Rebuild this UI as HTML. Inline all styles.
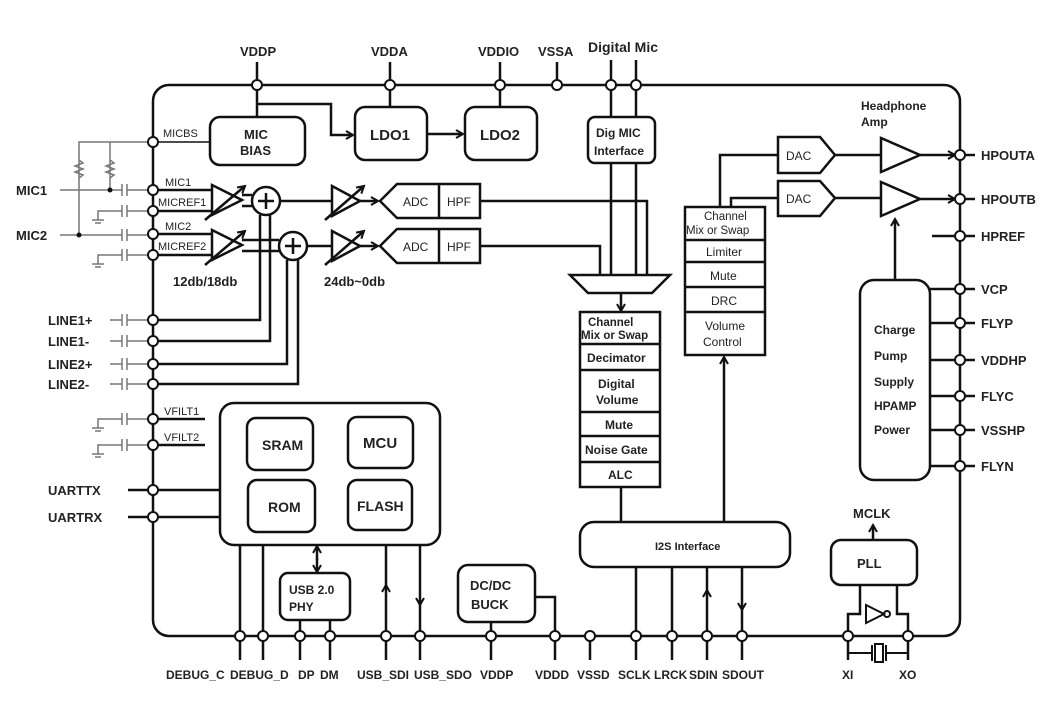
<!DOCTYPE html>
<html><head><style>
html,body{margin:0;padding:0;background:#fff}
svg{display:block}
text{font-family:"Liberation Sans",sans-serif;fill:#222}
.b{font-weight:bold;font-size:13px}
.s{font-size:11px;fill:#555}
.m{font-size:12px;fill:#444}
</style></head><body>
<svg width="1060" height="728" viewBox="0 0 1060 728" xmlns="http://www.w3.org/2000/svg">
<defs>
<marker id="a" markerWidth="10" markerHeight="10" refX="8" refY="5" orient="auto" markerUnits="userSpaceOnUse"><path d="M1,1 L8,5 L1,9" fill="none" stroke="#111" stroke-width="2"/></marker>
</defs>
<g fill="none" stroke="#111" stroke-width="2.5">
<rect x="153" y="85" width="807" height="551" rx="16"/>
<line x1="257" y1="62" x2="257" y2="118"/>
<line x1="390" y1="62" x2="390" y2="108"/>
<line x1="500" y1="62" x2="500" y2="108"/>
<line x1="557" y1="62" x2="557" y2="85"/>
<line x1="611" y1="60" x2="611" y2="117"/>
<line x1="636" y1="60" x2="636" y2="117"/>
<line x1="611" y1="163" x2="611" y2="275"/>
<line x1="636" y1="163" x2="636" y2="275"/>
<rect x="210" y="117" width="95" height="48" rx="10"/>
<rect x="355" y="107" width="72" height="53" rx="10"/>
<rect x="465" y="107" width="72" height="53" rx="10"/>
<polyline points="257,104 331,104 331,135 353,135" marker-end="url(#a)"/>
<line x1="427" y1="134" x2="463" y2="134" marker-end="url(#a)"/>
<line x1="153" y1="142" x2="210" y2="142" stroke-width="1.5"/>
<rect x="588" y="117" width="67" height="46" rx="7"/>
<line x1="153" y1="190" x2="212" y2="190"/>
<line x1="153" y1="211" x2="212" y2="211"/>
<line x1="153" y1="234" x2="212" y2="234"/>
<line x1="153" y1="255" x2="212" y2="255"/>
<path d="M212,185 L242,200 L212,215 Z"/>
<path d="M212,230 L242,245 L212,260 Z"/>
<line x1="205" y1="220" x2="245" y2="186" marker-end="url(#a)"/>
<line x1="205" y1="265" x2="245" y2="231" marker-end="url(#a)"/>
<line x1="242" y1="195" x2="252" y2="195"/><line x1="242" y1="206" x2="252" y2="206"/>
<line x1="242" y1="240" x2="279" y2="240"/><line x1="242" y1="251" x2="279" y2="251"/>
<circle cx="266" cy="201" r="14"/>
<circle cx="293" cy="246" r="14"/>
<line x1="266" y1="193" x2="266" y2="209"/><line x1="258" y1="201" x2="274" y2="201"/>
<line x1="293" y1="238" x2="293" y2="254"/><line x1="285" y1="246" x2="301" y2="246"/>
<polyline points="153,320 260,320 260,215"/>
<polyline points="153,341 270,341 270,215"/>
<polyline points="153,364 287,364 287,260"/>
<polyline points="153,384 298,384 298,260"/>
<line x1="280" y1="201" x2="332" y2="201"/>
<line x1="307" y1="246" x2="332" y2="246"/>
<path d="M332,186 L360,201 L332,216 Z"/>
<path d="M332,231 L360,246 L332,261 Z"/>
<line x1="325" y1="220" x2="364" y2="186" marker-end="url(#a)"/>
<line x1="325" y1="265" x2="364" y2="231" marker-end="url(#a)"/>
<line x1="360" y1="201" x2="378" y2="201" marker-end="url(#a)"/>
<line x1="360" y1="246" x2="378" y2="246" marker-end="url(#a)"/>
<path d="M380,201 L397,184 L480,184 L480,218 L397,218 Z"/>
<path d="M380,246 L397,229 L480,229 L480,263 L397,263 Z"/>
<line x1="439" y1="184" x2="439" y2="218"/>
<line x1="439" y1="229" x2="439" y2="263"/>
<polyline points="480,201 647,201 647,275"/>
<polyline points="480,246 600,246 600,275"/>
<path d="M570,275 L670,275 L652,293 L588,293 Z"/>
<line x1="621" y1="293" x2="621" y2="311" marker-end="url(#a)"/>
<rect x="580" y="312" width="80" height="175"/>
<line x1="580" y1="344" x2="660" y2="344"/>
<line x1="580" y1="370" x2="660" y2="370"/>
<line x1="580" y1="412" x2="660" y2="412"/>
<line x1="580" y1="436" x2="660" y2="436"/>
<line x1="580" y1="462" x2="660" y2="462"/>
<line x1="621" y1="487" x2="621" y2="522"/>
<rect x="685" y="207" width="80" height="148"/>
<line x1="685" y1="240" x2="765" y2="240"/>
<line x1="685" y1="262" x2="765" y2="262"/>
<line x1="685" y1="287" x2="765" y2="287"/>
<line x1="685" y1="312" x2="765" y2="312"/>
<line x1="724" y1="522" x2="724" y2="357" marker-end="url(#a)"/>
<polyline points="720,207 720,155 778,155"/>
<polyline points="731,207 731,198 778,198"/>
<path d="M778,137 L820,137 L835,155 L820,173 L778,173 Z"/>
<path d="M778,181 L820,181 L835,198 L820,216 L778,216 Z"/>
<line x1="835" y1="155" x2="881" y2="155"/>
<line x1="835" y1="198" x2="881" y2="198"/>
<path d="M881,138 L920,155 L881,172 Z"/>
<path d="M881,182 L920,199 L881,216 Z"/>
<line x1="920" y1="155" x2="955" y2="155" marker-end="url(#a)"/>
<line x1="920" y1="199" x2="955" y2="199" marker-end="url(#a)"/>
<line x1="932" y1="236" x2="975" y2="236"/>
<line x1="960" y1="155" x2="975" y2="155"/>
<line x1="960" y1="199" x2="975" y2="199"/>
<rect x="860" y="280" width="70" height="200" rx="14"/>
<line x1="895" y1="280" x2="895" y2="219" marker-end="url(#a)"/>
<line x1="930" y1="289" x2="975" y2="289"/>
<line x1="930" y1="323" x2="975" y2="323"/>
<line x1="930" y1="360" x2="975" y2="360"/>
<line x1="930" y1="396" x2="975" y2="396"/>
<line x1="930" y1="430" x2="975" y2="430"/>
<line x1="930" y1="466" x2="975" y2="466"/>
<rect x="220" y="403" width="220" height="142" rx="14"/>
<rect x="247" y="418" width="66" height="52" rx="9"/>
<rect x="348" y="417" width="65" height="51" rx="9"/>
<rect x="248" y="480" width="67" height="52" rx="9"/>
<rect x="348" y="480" width="64" height="50" rx="9"/>
<line x1="128" y1="490" x2="220" y2="490"/>
<line x1="128" y1="517" x2="220" y2="517"/>
<line x1="153" y1="419" x2="205" y2="419"/>
<line x1="153" y1="445" x2="205" y2="445"/>
<rect x="280" y="573" width="70" height="47" rx="8"/>
<line x1="317" y1="560" x2="317" y2="546" marker-end="url(#a)"/>
<line x1="317" y1="558" x2="317" y2="572" marker-end="url(#a)"/>
<line x1="300" y1="620" x2="300" y2="660"/>
<line x1="330" y1="620" x2="330" y2="660"/>
<line x1="240" y1="545" x2="240" y2="660"/>
<line x1="263" y1="545" x2="263" y2="660"/>
<line x1="386" y1="660" x2="386" y2="585" marker-end="url(#a)"/>
<line x1="386" y1="585" x2="386" y2="545"/>
<line x1="420" y1="545" x2="420" y2="605" marker-end="url(#a)"/>
<line x1="420" y1="600" x2="420" y2="660"/>
<rect x="458" y="565" width="77" height="57" rx="10"/>
<line x1="491" y1="622" x2="491" y2="660"/>
<polyline points="535,597 555,597 555,660"/>
<line x1="590" y1="636" x2="590" y2="660"/>
<rect x="580" y="522" width="210" height="45" rx="14"/>
<line x1="636" y1="567" x2="636" y2="660"/>
<line x1="672" y1="567" x2="672" y2="660"/>
<line x1="707" y1="660" x2="707" y2="590" marker-end="url(#a)"/>
<line x1="707" y1="590" x2="707" y2="567"/>
<line x1="742" y1="567" x2="742" y2="610" marker-end="url(#a)"/>
<line x1="742" y1="605" x2="742" y2="660"/>
<rect x="831" y="540" width="86" height="45" rx="10"/>
<line x1="873" y1="540" x2="873" y2="525" marker-end="url(#a)"/>
<polyline points="860,585 860,614 848,614 848,660"/>
<polyline points="897,585 897,614 908,614 908,660"/>
<path d="M866,605 L884,614 L866,623 Z" stroke-width="2"/>
<circle cx="887" cy="614" r="3" stroke-width="2"/>
<line x1="848" y1="653" x2="872" y2="653" stroke-width="2"/>
<line x1="886" y1="653" x2="908" y2="653" stroke-width="2"/>
<line x1="872" y1="645" x2="872" y2="661" stroke-width="2"/>
<line x1="886" y1="645" x2="886" y2="661" stroke-width="2"/>
<rect x="875" y="644" width="8" height="18" stroke-width="2"/>
</g>
<g fill="none" stroke="#777" stroke-width="1.5">
<polyline points="79,235 79,142 153,142"/>
<polyline points="110,190 110,142"/>
<path d="M79,160 l4,3 -8,3 8,3 -8,3 8,3 -4,3"/><path d="M110,160 l4,3 -8,3 8,3 -8,3 8,3 -4,3"/>
<line x1="60" y1="190" x2="122" y2="190"/><line x1="60" y1="235" x2="122" y2="235"/>
<line x1="127" y1="190" x2="153" y2="190"/><line x1="127" y1="235" x2="153" y2="235"/>
<line x1="122" y1="184" x2="122" y2="196"/><line x1="127" y1="184" x2="127" y2="196"/>
<line x1="122" y1="229" x2="122" y2="241"/><line x1="127" y1="229" x2="127" y2="241"/>
<polyline points="98,220 98,211 122,211"/><line x1="127" y1="211" x2="153" y2="211"/>
<line x1="122" y1="205" x2="122" y2="217"/><line x1="127" y1="205" x2="127" y2="217"/>
<polyline points="98,264 98,255 122,255"/><line x1="127" y1="255" x2="153" y2="255"/>
<line x1="122" y1="249" x2="122" y2="261"/><line x1="127" y1="249" x2="127" y2="261"/>
<line x1="92" y1="220" x2="104" y2="220"/><line x1="95" y1="223" x2="101" y2="223"/>
<line x1="92" y1="264" x2="104" y2="264"/><line x1="95" y1="267" x2="101" y2="267"/>
<polyline points="98,428 98,419 122,419"/><line x1="127" y1="419" x2="153" y2="419"/>
<line x1="122" y1="413" x2="122" y2="425"/><line x1="127" y1="413" x2="127" y2="425"/>
<polyline points="98,454 98,445 122,445"/><line x1="127" y1="445" x2="153" y2="445"/>
<line x1="122" y1="439" x2="122" y2="451"/><line x1="127" y1="439" x2="127" y2="451"/>
<line x1="92" y1="428" x2="104" y2="428"/><line x1="95" y1="431" x2="101" y2="431"/>
<line x1="92" y1="454" x2="104" y2="454"/><line x1="95" y1="457" x2="101" y2="457"/>
<line x1="110" y1="320" x2="122" y2="320"/><line x1="127" y1="320" x2="153" y2="320"/><line x1="122" y1="314" x2="122" y2="326"/><line x1="127" y1="314" x2="127" y2="326"/>
<line x1="110" y1="341" x2="122" y2="341"/><line x1="127" y1="341" x2="153" y2="341"/><line x1="122" y1="335" x2="122" y2="347"/><line x1="127" y1="335" x2="127" y2="347"/>
<line x1="110" y1="364" x2="122" y2="364"/><line x1="127" y1="364" x2="153" y2="364"/><line x1="122" y1="358" x2="122" y2="370"/><line x1="127" y1="358" x2="127" y2="370"/>
<line x1="110" y1="384" x2="122" y2="384"/><line x1="127" y1="384" x2="153" y2="384"/><line x1="122" y1="378" x2="122" y2="390"/><line x1="127" y1="378" x2="127" y2="390"/>
</g>
<circle cx="110" cy="190" r="2.5" fill="#111"/><circle cx="79" cy="235" r="2.5" fill="#111"/>
<g fill="#fff" stroke="#111" stroke-width="2">
<circle cx="257" cy="85" r="5"/><circle cx="390" cy="85" r="5"/><circle cx="500" cy="85" r="5"/><circle cx="557" cy="85" r="5"/><circle cx="611" cy="85" r="5"/><circle cx="636" cy="85" r="5"/>
<circle cx="153" cy="142" r="5"/><circle cx="153" cy="190" r="5"/><circle cx="153" cy="211" r="5"/><circle cx="153" cy="234" r="5"/><circle cx="153" cy="255" r="5"/>
<circle cx="153" cy="320" r="5"/><circle cx="153" cy="341" r="5"/><circle cx="153" cy="364" r="5"/><circle cx="153" cy="384" r="5"/>
<circle cx="153" cy="419" r="5"/><circle cx="153" cy="445" r="5"/><circle cx="153" cy="490" r="5"/><circle cx="153" cy="517" r="5"/>
<circle cx="960" cy="155" r="5"/><circle cx="960" cy="199" r="5"/><circle cx="960" cy="236" r="5"/><circle cx="960" cy="289" r="5"/><circle cx="960" cy="323" r="5"/><circle cx="960" cy="360" r="5"/><circle cx="960" cy="396" r="5"/><circle cx="960" cy="430" r="5"/><circle cx="960" cy="466" r="5"/>
<circle cx="240" cy="636" r="5"/><circle cx="263" cy="636" r="5"/><circle cx="300" cy="636" r="5"/><circle cx="330" cy="636" r="5"/><circle cx="386" cy="636" r="5"/><circle cx="420" cy="636" r="5"/><circle cx="491" cy="636" r="5"/><circle cx="555" cy="636" r="5"/><circle cx="590" cy="636" r="5"/><circle cx="636" cy="636" r="5"/><circle cx="672" cy="636" r="5"/><circle cx="707" cy="636" r="5"/><circle cx="742" cy="636" r="5"/><circle cx="848" cy="636" r="5"/><circle cx="908" cy="636" r="5"/>
</g>
<g class="b">
<text x="240" y="56">VDDP</text><text x="371" y="56">VDDA</text><text x="478" y="56">VDDIO</text><text x="538" y="56">VSSA</text>
<text x="588" y="52" style="font-size:14px">Digital Mic</text>
<text x="244" y="139">MIC</text><text x="240" y="155">BIAS</text>
<text x="370" y="140" style="font-size:15px">LDO1</text><text x="480" y="140" style="font-size:15px">LDO2</text>
<text x="596" y="137" style="font-size:12px">Dig MIC</text><text x="594" y="155" style="font-size:12px">Interface</text>
<text x="16" y="195">MIC1</text><text x="16" y="240">MIC2</text>
<text x="48" y="325">LINE1+</text><text x="48" y="346">LINE1-</text><text x="48" y="369">LINE2+</text><text x="48" y="389">LINE2-</text>
<text x="48" y="495">UARTTX</text><text x="48" y="522">UARTRX</text>
<text x="173" y="286">12db/18db</text><text x="324" y="286">24db~0db</text>
<text x="861" y="110" style="font-size:12px">Headphone</text><text x="861" y="126" style="font-size:12px">Amp</text>
<text x="981" y="160">HPOUTA</text><text x="981" y="204">HPOUTB</text><text x="981" y="241">HPREF</text>
<text x="981" y="294">VCP</text><text x="981" y="328">FLYP</text><text x="981" y="365">VDDHP</text><text x="981" y="401">FLYC</text><text x="981" y="435">VSSHP</text><text x="981" y="471">FLYN</text>
<text x="874" y="334" style="font-size:12px">Charge</text><text x="874" y="360" style="font-size:12px">Pump</text><text x="874" y="386" style="font-size:12px">Supply</text><text x="874" y="410" style="font-size:12px">HPAMP</text><text x="874" y="434" style="font-size:12px">Power</text>
<text x="588" y="326" style="font-size:11.5px">Channel</text><text x="581" y="339" style="font-size:11.5px">Mix or Swap</text>
<text x="587" y="362" style="font-size:12px">Decimator</text>
<text x="598" y="388" style="font-size:12px">Digital</text><text x="596" y="404" style="font-size:12px">Volume</text>
<text x="605" y="429" style="font-size:12px">Mute</text><text x="585" y="454" style="font-size:12px">Noise Gate</text><text x="608" y="479" style="font-size:12px">ALC</text>
<text x="262" y="450" style="font-size:14px">SRAM</text><text x="363" y="448" style="font-size:15px">MCU</text>
<text x="268" y="512" style="font-size:14px">ROM</text><text x="357" y="511" style="font-size:14px">FLASH</text>
<text x="289" y="594" style="font-size:12px">USB 2.0</text><text x="289" y="611" style="font-size:12px">PHY</text>
<text x="470" y="590" style="font-size:13px">DC/DC</text><text x="471" y="609" style="font-size:13px">BUCK</text>
<text x="655" y="550" style="font-size:11px">I2S Interface</text>
<text x="857" y="568">PLL</text><text x="853" y="518">MCLK</text>
</g>
<g class="b" style="font-size:12px">
<text x="166" y="679">DEBUG_C</text><text x="230" y="679">DEBUG_D</text><text x="298" y="679">DP</text><text x="320" y="679">DM</text>
<text x="357" y="679">USB_SDI</text><text x="414" y="679">USB_SDO</text><text x="480" y="679">VDDP</text>
<text x="535" y="679">VDDD</text><text x="577" y="679">VSSD</text><text x="618" y="679">SCLK</text><text x="654" y="679">LRCK</text><text x="689" y="679">SDIN</text><text x="722" y="679">SDOUT</text>
<text x="842" y="679">XI</text><text x="899" y="679">XO</text>
</g>
<g class="s">
<text x="163" y="137">MICBS</text><text x="165" y="186">MIC1</text><text x="158" y="206">MICREF1</text><text x="165" y="230">MIC2</text><text x="158" y="250">MICREF2</text>
<text x="164" y="415">VFILT1</text><text x="164" y="441">VFILT2</text>
</g>
<g class="m">
<text x="403" y="206">ADC</text><text x="447" y="206">HPF</text><text x="403" y="251">ADC</text><text x="447" y="251">HPF</text>
<text x="786" y="160">DAC</text><text x="786" y="203">DAC</text>
<text x="704" y="220" style="font-size:11.5px">Channel</text><text x="686" y="234" style="font-size:11.5px">Mix or Swap</text>
<text x="706" y="256">Limiter</text><text x="710" y="280">Mute</text><text x="711" y="305">DRC</text>
<text x="705" y="330">Volume</text><text x="703" y="346">Control</text>
</g>
</svg>
</body></html>
